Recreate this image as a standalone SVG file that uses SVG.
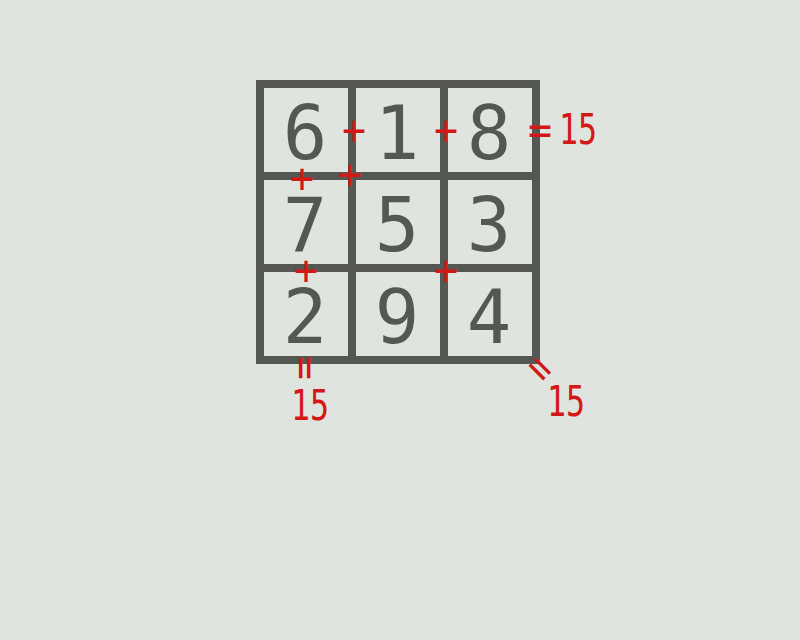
<svg xmlns="http://www.w3.org/2000/svg" width="800" height="640" viewBox="0 0 800 640">
<style>
.bg{fill:#dfe4de}
.grid{fill:none;stroke:#555852;stroke-width:8}
.dig{font-family:"DejaVu Sans Mono","Liberation Mono",monospace;font-size:74px;fill:#555852;text-anchor:middle}
.op{font-family:"DejaVu Sans Mono","Liberation Mono",monospace;font-size:40px;fill:#d41717;text-anchor:middle}
.sum{font-family:"DejaVu Sans Mono","Liberation Mono",monospace;font-size:43px;fill:#d41717;text-anchor:middle}
</style>
<rect class="bg" x="0" y="0" width="800" height="640"/>
<g id="grid">
<rect class="grid" x="260" y="84" width="276" height="276"/>
<line class="grid" x1="352" y1="84" x2="352" y2="360"/>
<line class="grid" x1="444" y1="84" x2="444" y2="360"/>
<line class="grid" x1="260" y1="176" x2="536" y2="176"/>
<line class="grid" x1="260" y1="268" x2="536" y2="268"/>
</g>
<g id="cell-6"><text class="dig" x="305" y="159">6</text></g>
<g id="cell-1"><text class="dig" x="397" y="159">1</text></g>
<g id="cell-8"><text class="dig" x="489" y="159">8</text></g>
<g id="cell-7"><text class="dig" x="305" y="251">7</text></g>
<g id="cell-5"><text class="dig" x="397" y="251">5</text></g>
<g id="cell-3"><text class="dig" x="489" y="251">3</text></g>
<g id="cell-2"><text class="dig" x="305" y="343">2</text></g>
<g id="cell-9"><text class="dig" x="397" y="343">9</text></g>
<g id="cell-4"><text class="dig" x="489" y="343">4</text></g>
<g id="annotations">
<text class="op" x="354" y="144">+</text>
<text class="op" x="446" y="144">+</text>
<text class="op" x="302" y="192">+</text>
<text class="op" x="350" y="188">+</text>
<text class="op" x="306" y="284">+</text>
<text class="op" x="446" y="284">+</text>
<text class="op" x="540" y="144">=</text>
<text class="sum" x="578" y="144" textLength="38" lengthAdjust="spacingAndGlyphs">15</text>
<text class="op" transform="translate(306,368) rotate(90)" y="14">=</text>
<text class="sum" x="310" y="420" textLength="38" lengthAdjust="spacingAndGlyphs">15</text>
<text class="op" transform="translate(541,368) rotate(45)" y="14">=</text>
<text class="sum" x="566" y="416" textLength="38" lengthAdjust="spacingAndGlyphs">15</text>
</g>
</svg>
